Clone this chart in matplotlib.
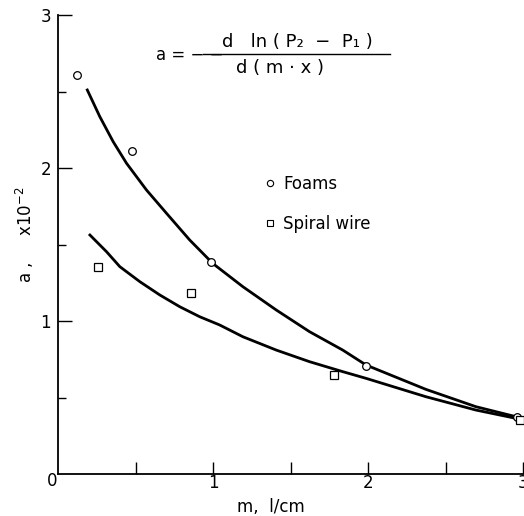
import matplotlib
matplotlib.use("Agg")
import matplotlib.pyplot as plt
from matplotlib.lines import Line2D

# Data points
foam_x = [0.12, 0.48, 0.99, 1.99, 2.96]
foam_y = [2.61, 2.11, 1.385, 0.706, 0.37]
wire_x = [0.26, 0.86, 1.78, 2.98]
wire_y = [1.35, 1.185, 0.65, 0.35]

# Fitted curves
foam_curve_x = [0.189, 0.270, 0.356, 0.442, 0.571, 0.700, 0.850, 1.0, 1.193,
                1.408, 1.623, 1.837, 1.988, 2.374, 2.696, 2.953]
foam_curve_y = [2.51, 2.335, 2.172, 2.031, 1.856, 1.704, 1.529, 1.375, 1.224,
                1.072, 0.930, 0.810, 0.712, 0.553, 0.44, 0.375]
wire_curve_x = [0.206, 0.313, 0.399, 0.528, 0.657, 0.786, 0.914, 1.043, 1.193,
                1.408, 1.623, 1.837, 1.988, 2.374, 2.696, 2.953]
wire_curve_y = [1.562, 1.453, 1.355, 1.257, 1.170, 1.093, 1.028, 0.974, 0.897,
                0.810, 0.734, 0.669, 0.625, 0.505, 0.418, 0.364]

x_ticks = [1, 2, 3]
y_ticks = [1, 2, 3]

W, H = 524, 516
def fx(px):
    return px / W
def fy(py):
    return 1 - py / H

fig = plt.figure(figsize=(5.24, 5.16), dpi=100)
ax = fig.add_axes([58/W, 42/H, 465/W, 459/H])

ax.plot(foam_curve_x, foam_curve_y, color="black", lw=2.0, solid_joinstyle="round")
ax.plot(wire_curve_x, wire_curve_y, color="black", lw=2.0, solid_joinstyle="round")
ax.plot(foam_x, foam_y, ls="none", marker="o", ms=5.5, mfc="white", mec="black", mew=0.9, zorder=3)
ax.plot(wire_x, wire_y, ls="none", marker="s", ms=5.5, mfc="white", mec="black", mew=0.9, zorder=3)

ax.set_xlim(0, 3)
ax.set_ylim(0, 3)
for s in ["top", "right"]:
    ax.spines[s].set_visible(False)
for s in ["left", "bottom"]:
    ax.spines[s].set_linewidth(1.3)

ax.set_xticks(x_ticks)
ax.set_xticklabels([str(t) for t in x_ticks])
ax.set_yticks(y_ticks)
ax.set_yticklabels([str(t) for t in y_ticks])
ax.set_xticks([0.5, 1.5, 2.5], minor=True)
ax.set_yticks([0.5, 1.5, 2.5], minor=True)
ax.tick_params(axis="x", which="major", direction="in", length=9, width=1.0, labelsize=12, pad=0)
ax.tick_params(axis="x", which="minor", direction="in", length=9, width=1.0)
ax.tick_params(axis="y", which="major", direction="in", length=10, width=1.0, labelsize=12, pad=5)
ax.tick_params(axis="y", which="minor", direction="in", length=6, width=1.0)

fig.text(fx(52), fy(481), "0", fontsize=12, ha="center", va="center")
fig.text(fx(271), fy(507), "m,  l/cm", fontsize=12, ha="center", va="center")
fig.text(fx(25), fy(235), r"a ,     x10$^{-2}$", fontsize=12, ha="center", va="center",
         rotation=90)

# formula
fig.text(fx(156), fy(55), "a = − −", fontsize=12, ha="left", va="center")
fig.text(fx(297), fy(42), "d   ln ( P₂  −  P₁ )", fontsize=13, ha="center", va="center")
fig.text(fx(280), fy(68), "d ( m · x )", fontsize=13, ha="center", va="center")
fig.add_artist(Line2D([fx(203), fx(390)], [fy(54), fy(54)], color="black", lw=1.0))

handles = [Line2D([], [], ls="none", marker="o", ms=4.5, mfc="white", mec="black", mew=0.8),
           Line2D([], [], ls="none", marker="s", ms=4.5, mfc="white", mec="black", mew=0.8)]
ax.legend(handles, ["Foams", "Spiral wire"], loc="upper left",
          bbox_to_anchor=((258-58)/465, (474-168)/459), frameon=False,
          fontsize=12, handlelength=0.6, handletextpad=0.5, labelspacing=1.35,
          borderaxespad=0)

fig.savefig("out.png", dpi=100)
